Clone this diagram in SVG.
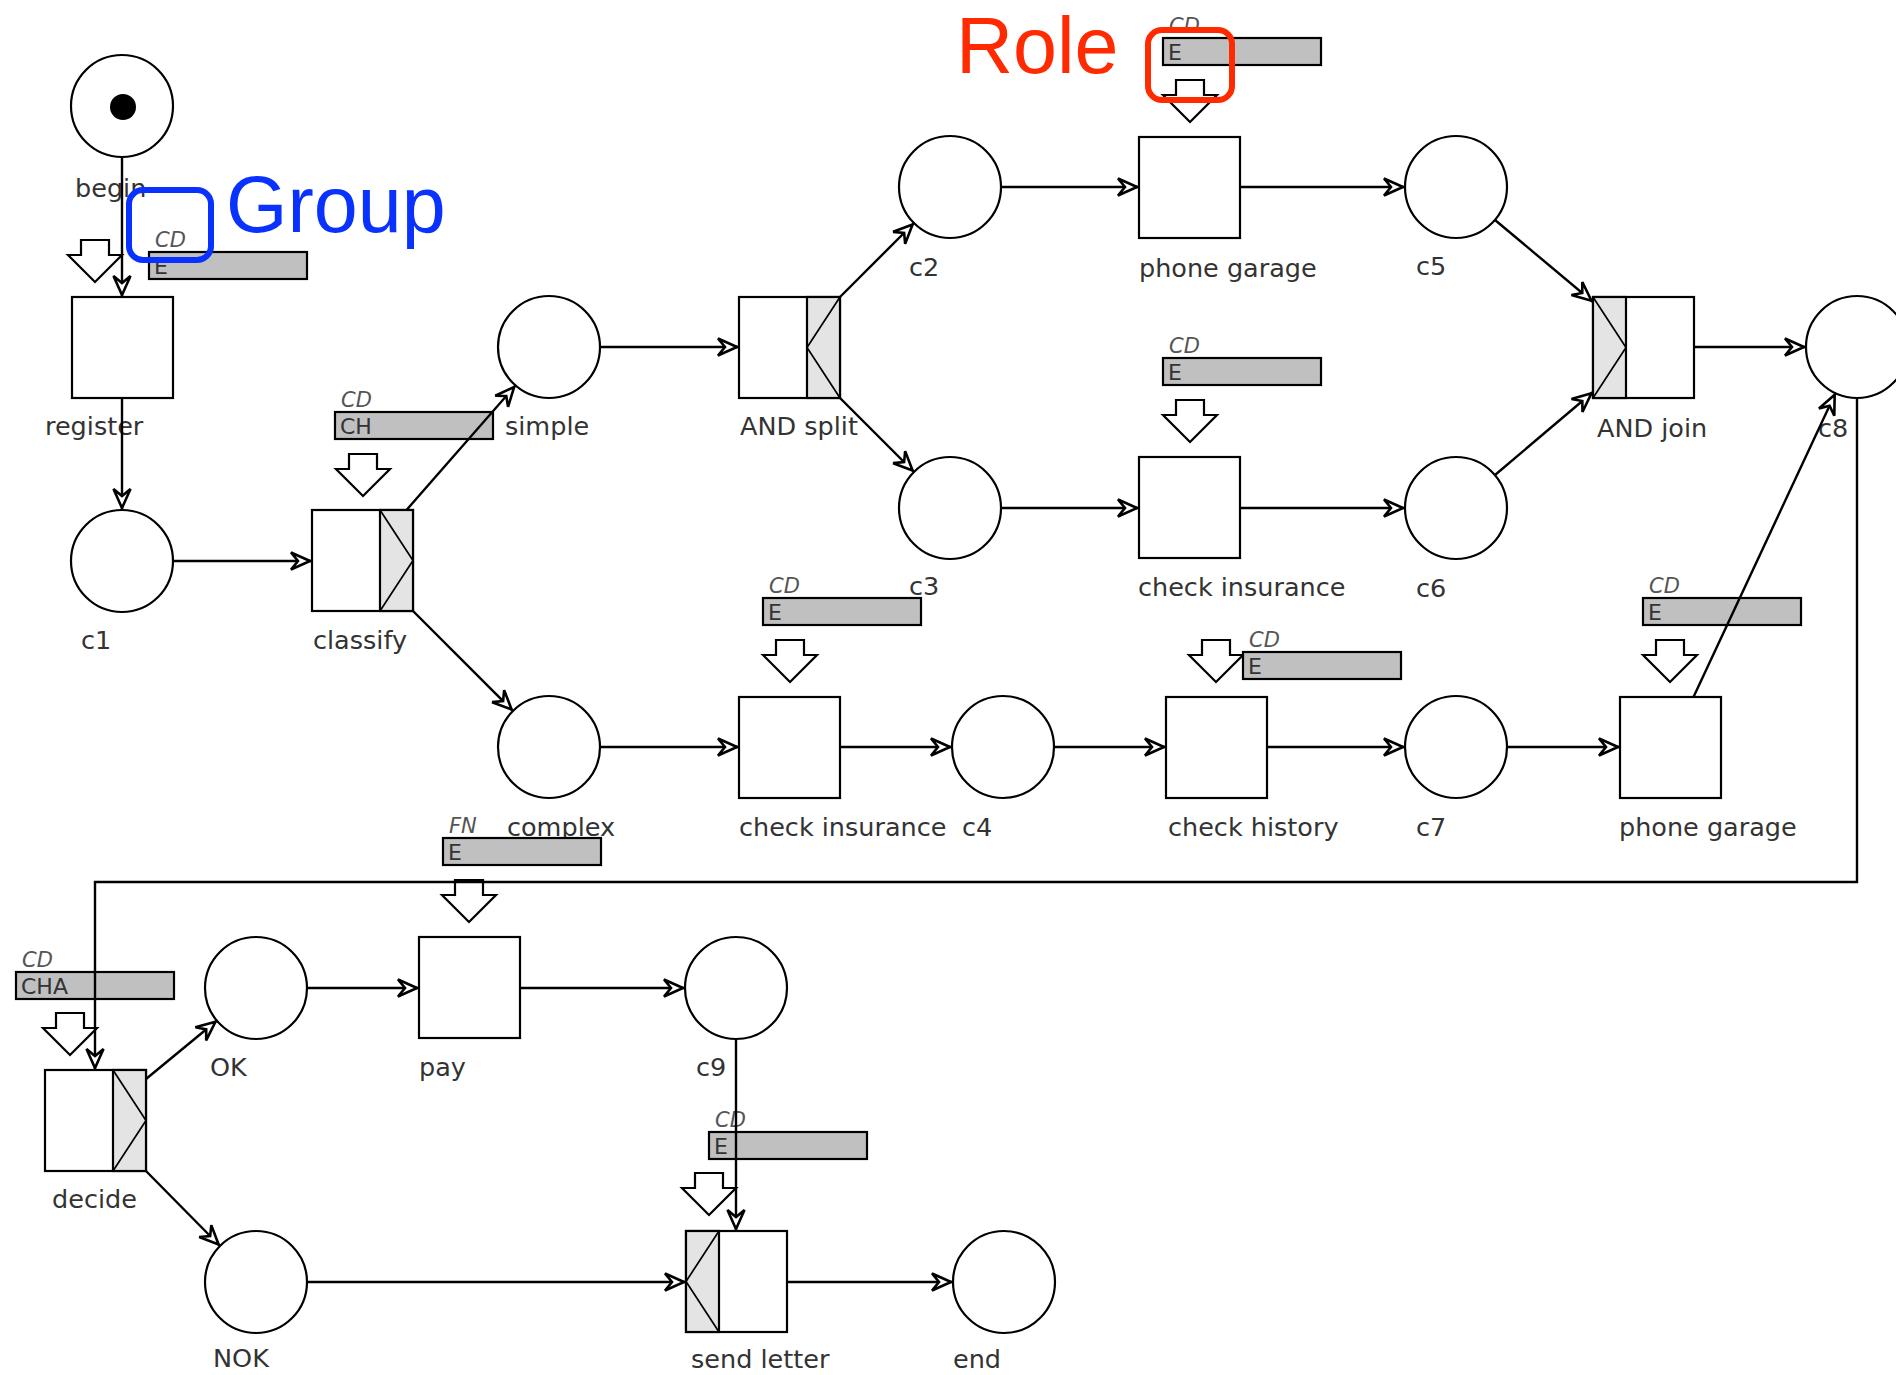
<svg xmlns="http://www.w3.org/2000/svg" width="1896" height="1375" viewBox="0 0 1896 1375">
  <defs>
    <style>
      .place { fill: #fff; stroke: #000; stroke-width: 2.2; }
      .task { fill: #fff; stroke: #000; stroke-width: 2.2; }
      .strip { fill: #e4e4e4; stroke: #000; stroke-width: 2.2; }
      .deco { fill: none; stroke: #000; stroke-width: 1.7; }
      .bar { fill: #c0c0c0; stroke: #000; stroke-width: 2.2; }
      .res { fill: #fff; stroke: #000; stroke-width: 2.2; stroke-linejoin: miter; }
      .lbl { font-family: "DejaVu Sans", Verdana, sans-serif; font-size: 25.5px; fill: #333; }
      .code { font-family: "DejaVu Sans", Verdana, sans-serif; font-size: 22px; fill: #333; }
      .grp { font-family: "DejaVu Sans", Verdana, sans-serif; font-style: italic; font-size: 21px; fill: #555; }
      .arc { fill: none; stroke: #000; stroke-width: 2.4; marker-end: url(#arrow); }
      .note { font-family: "Liberation Sans", Arial, sans-serif; font-size: 79px; }
    </style>
    <marker id="arrow" viewBox="-24 -12 28 24" refX="2" refY="0" markerWidth="28" markerHeight="24" markerUnits="userSpaceOnUse" orient="auto" overflow="visible">
      <path d="M0,0 L-19,-8.5 L-12,0 L-19,8.5 Z" fill="#fff" stroke="#000" stroke-width="2.6"/>
    </marker>
    <!-- hollow resource arrow, apex at origin -->
    <polygon id="res" class="res" points="-14,-42 14,-42 14,-27 27,-27 0,0 -27,-27 -14,-27"/>
  </defs>

  <rect width="1896" height="1375" fill="#fff"/>

  <!-- places -->
  <g id="begin">
    <circle class="place" cx="122" cy="106" r="51"/>
    <circle cx="123" cy="107" r="13" fill="#000"/>
    <text class="lbl" x="75" y="197">begin</text>
  </g>
  <g id="c1">
    <circle class="place" cx="122" cy="561" r="51"/>
    <text class="lbl" x="81" y="649">c1</text>
  </g>
  <g id="simple">
    <circle class="place" cx="549" cy="347" r="51"/>
    <text class="lbl" x="505" y="435">simple</text>
  </g>
  <g id="complex">
    <circle class="place" cx="549" cy="747" r="51"/>
    <text class="lbl" x="507" y="836">complex</text>
  </g>
  <g id="c2">
    <circle class="place" cx="950" cy="187" r="51"/>
    <text class="lbl" x="909" y="276">c2</text>
  </g>
  <g id="c3">
    <circle class="place" cx="950" cy="508" r="51"/>
    <text class="lbl" x="909" y="595">c3</text>
  </g>
  <g id="c5">
    <circle class="place" cx="1456" cy="187" r="51"/>
    <text class="lbl" x="1416" y="275">c5</text>
  </g>
  <g id="c6">
    <circle class="place" cx="1456" cy="508" r="51"/>
    <text class="lbl" x="1416" y="597">c6</text>
  </g>
  <g id="c8">
    <circle class="place" cx="1857" cy="347" r="51"/>
    <text class="lbl" x="1818" y="437">c8</text>
  </g>
  <g id="c4">
    <circle class="place" cx="1003" cy="747" r="51"/>
    <text class="lbl" x="962" y="836">c4</text>
  </g>
  <g id="c7">
    <circle class="place" cx="1456" cy="747" r="51"/>
    <text class="lbl" x="1416" y="836">c7</text>
  </g>
  <g id="ok">
    <circle class="place" cx="256" cy="988" r="51"/>
    <text class="lbl" x="210" y="1076">OK</text>
  </g>
  <g id="c9">
    <circle class="place" cx="736" cy="988" r="51"/>
    <text class="lbl" x="696" y="1076">c9</text>
  </g>
  <g id="nok">
    <circle class="place" cx="256" cy="1282" r="51"/>
    <text class="lbl" x="213" y="1367">NOK</text>
  </g>
  <g id="end">
    <circle class="place" cx="1004" cy="1282" r="51"/>
    <text class="lbl" x="953" y="1368">end</text>
  </g>

  <!-- tasks, each with its role bar and resource arrow -->
  <g id="register">
    <rect class="task" x="72" y="297" width="101" height="101"/>
    <use href="#res" x="95" y="282"/>
    <rect class="bar" x="149" y="252" width="158" height="27"/>
    <text class="code" x="154" y="274">E</text>
    <text class="grp" x="155" y="247">CD</text>
    <text class="lbl" x="45" y="435">register</text>
  </g>
  <g id="classify">
    <rect class="task" x="312" y="510" width="101" height="101"/>
    <rect class="strip" x="380" y="510" width="33" height="101"/>
    <polyline class="deco" points="380,510 413,560.5 380,611"/>
    <use href="#res" x="363" y="496"/>
    <rect class="bar" x="335" y="412" width="158" height="27"/>
    <text class="code" x="340" y="434">CH</text>
    <text class="grp" x="341" y="407">CD</text>
    <text class="lbl" x="313" y="649">classify</text>
  </g>
  <g id="and-split">
    <rect class="task" x="739" y="297" width="101" height="101"/>
    <rect class="strip" x="807" y="297" width="33" height="101"/>
    <polyline class="deco" points="840,297 807,347.5 840,398"/>
    <text class="lbl" x="740" y="435">AND split</text>
  </g>
  <g id="phone-garage-1">
    <rect class="task" x="1139" y="137" width="101" height="101"/>
    <use href="#res" x="1190" y="122"/>
    <rect class="bar" x="1163" y="38" width="158" height="27"/>
    <text class="code" x="1168" y="60">E</text>
    <text class="grp" x="1169" y="33">CD</text>
    <text class="lbl" x="1139" y="277">phone garage</text>
  </g>
  <g id="check-insurance-1">
    <rect class="task" x="1139" y="457" width="101" height="101"/>
    <use href="#res" x="1190" y="442"/>
    <rect class="bar" x="1163" y="358" width="158" height="27"/>
    <text class="code" x="1168" y="380">E</text>
    <text class="grp" x="1169" y="353">CD</text>
    <text class="lbl" x="1138" y="596">check insurance</text>
  </g>
  <g id="and-join">
    <rect class="task" x="1593" y="297" width="101" height="101"/>
    <rect class="strip" x="1593" y="297" width="33" height="101"/>
    <polyline class="deco" points="1593,297 1626,347.5 1593,398"/>
    <text class="lbl" x="1597" y="437">AND join</text>
  </g>
  <g id="check-insurance-2">
    <rect class="task" x="739" y="697" width="101" height="101"/>
    <use href="#res" x="790" y="682"/>
    <rect class="bar" x="763" y="598" width="158" height="27"/>
    <text class="code" x="768" y="620">E</text>
    <text class="grp" x="769" y="593">CD</text>
    <text class="lbl" x="739" y="836">check insurance</text>
  </g>
  <g id="check-history">
    <rect class="task" x="1166" y="697" width="101" height="101"/>
    <use href="#res" x="1216" y="682"/>
    <rect class="bar" x="1243" y="652" width="158" height="27"/>
    <text class="code" x="1248" y="674">E</text>
    <text class="grp" x="1249" y="647">CD</text>
    <text class="lbl" x="1168" y="836">check history</text>
  </g>
  <g id="phone-garage-2">
    <rect class="task" x="1620" y="697" width="101" height="101"/>
    <use href="#res" x="1670" y="682"/>
    <rect class="bar" x="1643" y="598" width="158" height="27"/>
    <text class="code" x="1648" y="620">E</text>
    <text class="grp" x="1649" y="593">CD</text>
    <text class="lbl" x="1619" y="836">phone garage</text>
  </g>
  <g id="decide">
    <rect class="task" x="45" y="1070" width="101" height="101"/>
    <rect class="strip" x="113" y="1070" width="33" height="101"/>
    <polyline class="deco" points="113,1070 146,1120.5 113,1171"/>
    <use href="#res" x="70" y="1055"/>
    <rect class="bar" x="16" y="972" width="158" height="27"/>
    <text class="code" x="21" y="994">CHA</text>
    <text class="grp" x="22" y="967">CD</text>
    <text class="lbl" x="52" y="1208">decide</text>
  </g>
  <g id="pay">
    <rect class="task" x="419" y="937" width="101" height="101"/>
    <use href="#res" x="469" y="922"/>
    <rect class="bar" x="443" y="838" width="158" height="27"/>
    <text class="code" x="448" y="860">E</text>
    <text class="grp" x="449" y="833">FN</text>
    <text class="lbl" x="419" y="1076">pay</text>
  </g>
  <g id="send-letter">
    <rect class="task" x="686" y="1231" width="101" height="101"/>
    <rect class="strip" x="686" y="1231" width="33" height="101"/>
    <polyline class="deco" points="719,1231 686,1281.5 719,1332"/>
    <use href="#res" x="709" y="1215"/>
    <rect class="bar" x="709" y="1132" width="158" height="27"/>
    <text class="code" x="714" y="1154">E</text>
    <text class="grp" x="715" y="1127">CD</text>
    <text class="lbl" x="691" y="1368">send letter</text>
  </g>

  <!-- flow arcs -->
  <g id="arcs">
    <path class="arc" d="M122,157 V297"/>
    <path class="arc" d="M122,398 V510"/>
    <path class="arc" d="M173,561 H312"/>
    <path class="arc" d="M406.5,510 L515.5,385.5"/>
    <path class="arc" d="M413,611 L513,711"/>
    <path class="arc" d="M600,347 H739"/>
    <path class="arc" d="M840,297 L914,223"/>
    <path class="arc" d="M840,398 L914,472"/>
    <path class="arc" d="M1001,187 H1139"/>
    <path class="arc" d="M1240,187 H1405"/>
    <path class="arc" d="M1001,508 H1139"/>
    <path class="arc" d="M1240,508 H1405"/>
    <path class="arc" d="M1495,220 L1593,302"/>
    <path class="arc" d="M1495,475 L1593,392"/>
    <path class="arc" d="M1694,347 H1806"/>
    <path class="arc" d="M600,747 H739"/>
    <path class="arc" d="M840,747 H952"/>
    <path class="arc" d="M1054,747 H1166"/>
    <path class="arc" d="M1267,747 H1405"/>
    <path class="arc" d="M1507,747 H1620"/>
    <path class="arc" d="M1693.5,697 L1835.5,393"/>
    <path class="arc" d="M1857,398 V882 H95 V1070"/>
    <path class="arc" d="M146,1079 L217,1020.5"/>
    <path class="arc" d="M146,1171 L220,1246"/>
    <path class="arc" d="M307,988 H419"/>
    <path class="arc" d="M520,988 H685"/>
    <path class="arc" d="M736,1039 V1231"/>
    <path class="arc" d="M307,1282 H686"/>
    <path class="arc" d="M787,1282 H953"/>
  </g>

  <!-- callouts -->
  <g id="group-callout">
    <rect x="129" y="190" width="82" height="70" rx="14" fill="none" stroke="#0a32ff" stroke-width="6"/>
    <text class="note" x="226" y="232" fill="#0a32ff">Group</text>
  </g>
  <g id="role-callout">
    <rect x="1148" y="30" width="84" height="70" rx="14" fill="none" stroke="#ff2a00" stroke-width="6"/>
    <text class="note" x="956" y="73" fill="#ff2a00">Role</text>
  </g>
</svg>
